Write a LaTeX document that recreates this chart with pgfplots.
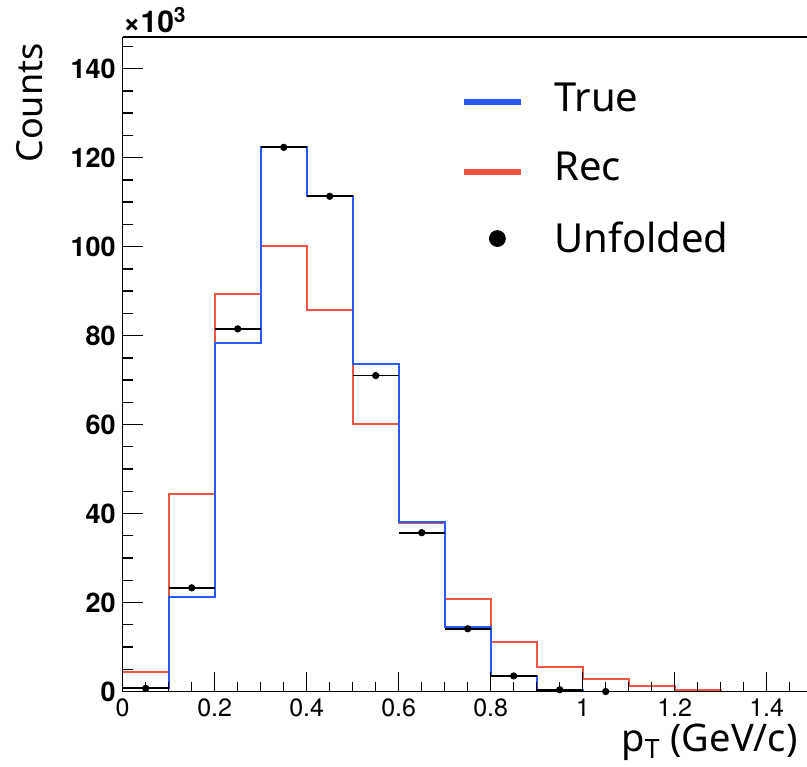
\documentclass[border=0pt]{standalone}
\usepackage{fontspec}
\setmainfont{Noto Sans}
\newfontfamily\helv{TeX Gyre Heros}
\usepackage{pgfplots}
\pgfplotsset{compat=1.18}
\definecolor{trueblue}{RGB}{40,90,255}
\definecolor{recred}{RGB}{240,85,65}
\pgfplotsset{
  linelegend/.style={legend image code/.code={\draw[##1] (0pt,-2pt) -- (28.5pt,-2pt);}},
  dotlegend/.style={legend image code/.code={\path[draw=none, fill=none] (0pt,0pt) -- (28.5pt,0pt); \fill[##1, draw=none] (16.5pt,0pt) circle (4.2pt);}},
}

\begin{document}
\begin{tikzpicture}
% page = 807x766 px at 0.5pt per px
\useasboundingbox (-61.35pt,-37.25pt) rectangle (342.15pt,345.75pt);
\begin{axis}[
  name=ax,
  at={(0,0)}, anchor=south west,
  scale only axis,
  width=342.15pt, height=327.25pt,
  xmin=0, xmax=1.4876,
  ymin=0, ymax=147.1,
  axis x line=box, axis y line=left,
  axis line style={-, line width=0.7pt},
  xtick pos=bottom,
  tick align=inside,
  xtick={0,0.2,...,1.4},
  minor xtick={0.05,0.1,...,1.46},
  ytick={0,20,...,140},
  minor ytick={5,10,...,146},
  major tick length=10pt,
  minor tick length=5pt,
  tick style={black, line width=0.7pt},
  /pgf/number format/assume math mode=true,
  xticklabel style={font=\helv\fontsize{12.5}{12.5}\selectfont},
  yticklabel style={font=\helv\bfseries\fontsize{13.5}{13.5}\selectfont},
  axis on top,
  legend style={draw=none, fill=none, at={(0.4856,0.937)}, anchor=north west,
    font=\fontsize{20}{24}\selectfont, row sep=19pt, column sep=15pt,
    nodes={inner sep=0pt}},
  legend cell align=left,
]
\addlegendimage{trueblue, line width=3pt, linelegend}
\addlegendentry{True}
\addlegendimage{recred, line width=3pt, linelegend}
\addlegendentry{Rec}
\addlegendimage{black, dotlegend}
\addlegendentry{Unfolded}

% Rec
\addplot[const plot, recred, line width=1pt, forget plot] coordinates {
  (0,4.4) (0.1,44.3) (0.2,89.3) (0.3,100.1) (0.4,85.7) (0.5,60.1) (0.6,37.9)
  (0.7,20.9) (0.8,11.2) (0.9,5.5) (1.0,2.8) (1.1,1.3) (1.2,0.4) (1.3,0)
  (1.4,0) (1.5,0)
};
% True
\addplot[const plot, trueblue, line width=1pt, forget plot] coordinates {
  (0,0.7) (0.1,21.3) (0.2,78.4) (0.3,122.4) (0.4,111.3) (0.5,73.7) (0.6,38.0)
  (0.7,14.4) (0.8,3.4) (0.9,0.3) (1.0,0) (1.1,0) (1.2,0) (1.3,0)
  (1.4,0) (1.5,0)
};
% Unfolded
\addplot[only marks, mark=*, mark size=1.6pt, black, forget plot,
  error bars/.cd, x dir=both, x explicit, error mark=none,
  error bar style={line width=0.9pt, black}] coordinates {
  (0.05,0.7) +- (0.05,0)
  (0.15,23.3) +- (0.05,0)
  (0.25,81.5) +- (0.05,0)
  (0.35,122.3) +- (0.05,0)
  (0.45,111.3) +- (0.05,0)
  (0.55,71.0) +- (0.05,0)
  (0.65,35.7) +- (0.05,0)
  (0.75,14.1) +- (0.05,0)
  (0.85,3.5) +- (0.05,0)
  (0.95,0.4) +- (0.05,0)
  (1.05,0.0) +- (0.05,0)
};
\end{axis}
\node[rotate=90, anchor=base east, inner sep=0pt, font=\fontsize{18}{20}\selectfont]
  at ([xshift=-39.85pt, yshift=-3pt]ax.north west) {Counts};
\node[anchor=base east, inner sep=0pt, font=\fontsize{19}{22}\selectfont]
  at ([xshift=-4.5pt, yshift=-30pt]ax.south east) {p\textsubscript{T} (GeV/c)};
\node[anchor=base west, inner sep=0pt, font=\helv\bfseries\fontsize{15}{15}\selectfont]
  at ([yshift=2.25pt]ax.north west) {×10\textsuperscript{3}};
\end{tikzpicture}
\end{document}
